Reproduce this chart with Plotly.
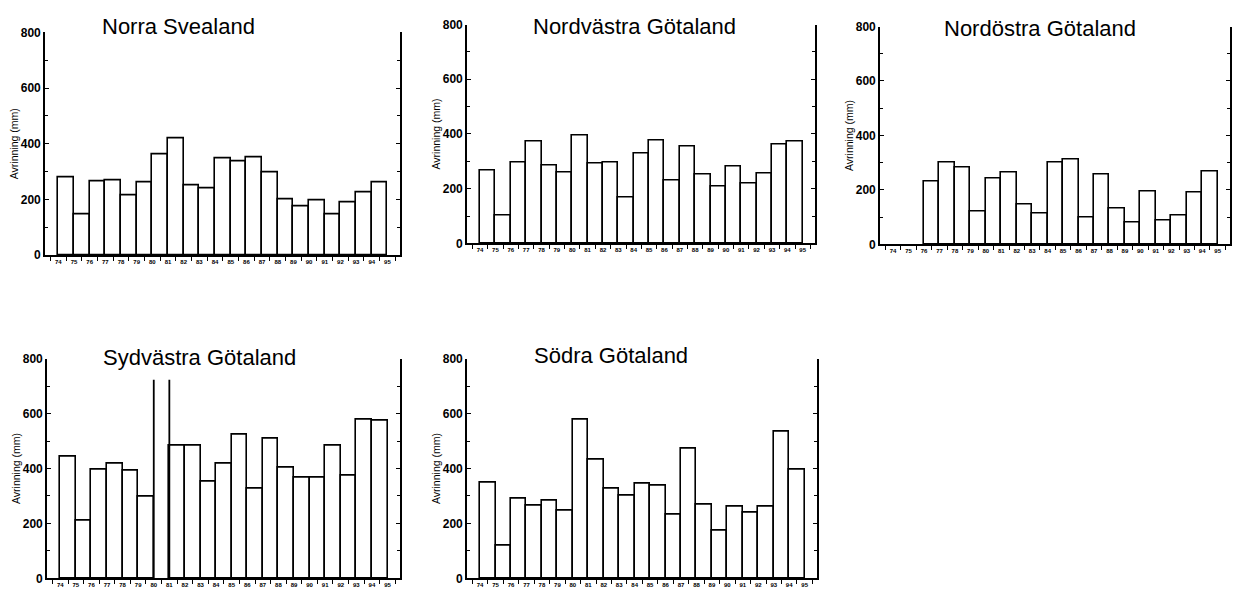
import plotly.graph_objects as go

# Hydrological seasons: the bar for start year Y spans Y..Y+1
year_labels = [str(y) for y in range(74, 96)]
season_starts = list(range(74, 95))

norra_svealand = [280, 147, 263, 268, 215, 262, 363, 418, 251, 240, 347,
                  336, 352, 298, 201, 174, 195, 146, 188, 227, 262]
nordvastra_gotaland = [268, 102, 294, 374, 283, 258, 393, 293, 295, 168, 327,
                       377, 230, 355, 252, 207, 279, 217, 254, 361, 374]
nordostra_gotaland = [None, None, 232, 302, 281, 122, 240, 263, 147, 113, 300,
                      313, 100, 257, 133, 79, 193, 86, 106, 191, 266]
sydvastra_gotaland = [444, 210, 397, 417, 394, 298, 723, 483, 483, 353, 418,
                      525, 325, 508, 405, 367, 367, 482, 373, 579, 573]
sodra_gotaland = [347, 121, 289, 265, 283, 248, 579, 434, 325, 301, 345,
                  336, 233, 472, 268, 173, 261, 239, 261, 533, 395]

# Seasons whose bar runs off the top and is drawn without a lid
sydvastra_open_top = [80]

regions = [
    ("Norra Svealand", norra_svealand, []),
    ("Nordvästra Götaland", nordvastra_gotaland, []),
    ("Nordöstra Götaland", nordostra_gotaland, []),
    ("Sydvästra Götaland", sydvastra_gotaland, sydvastra_open_top),
    ("Södra Götaland", sodra_gotaland, []),
]

W, H = 1239, 602
# plot areas in pixels: (left, right, top, bottom)
boxes = [
    (45, 400, 26, 254),
    (467, 815, 18, 242),
    (880, 1230, 20, 243),
    (47, 400, 360, 585),
    (467, 817, 360, 585),
]
# title centres in pixels
title_pos = [(178, 20), (634, 20), (1040, 22), (199, 359), (611, 357)]

TITLE_FONT = "Liberation Sans, Arial"
TICK_FONT = "Liberation Sans, Arial"

fig = go.Figure()
layout = {}
annotations = []

for i, ((name, values, open_top), box, tpos) in enumerate(zip(regions, boxes, title_pos)):
    n = "" if i == 0 else str(i + 1)
    xa, ya = "x" + n, "y" + n

    bx, by = [], []
    for s, v in zip(season_starts, values):
        if v is None or s in open_top:
            continue
        bx.append(s + 0.5)
        by.append(v)
    fig.add_trace(go.Bar(
        x=bx, y=by, width=1.0, xaxis=xa, yaxis=ya,
        marker=dict(color="white", line=dict(color="black", width=1.6)),
        showlegend=False, hoverinfo="skip",
    ))

    # open-topped bars: only the two sides
    for s, v in zip(season_starts, values):
        if s in open_top and v is not None:
            fig.add_trace(go.Scatter(
                x=[s, s, None, s + 1, s + 1], y=[0, v, None, v, 0],
                mode="lines", line=dict(color="black", width=1.8),
                xaxis=xa, yaxis=ya, showlegend=False, hoverinfo="skip",
            ))

    l, r, t, b = box
    layout["xaxis" + n] = dict(
        domain=[l / W, r / W], range=[73.15, 95.8], anchor=ya,
        tickmode="array", tickvals=list(range(74, 96)), ticktext=year_labels,
        ticks="", tickfont=dict(family=TICK_FONT, size=6, color="black",
                                weight="bold"),
        minor=dict(tick0=73.5, dtick=1, ticks="outside", ticklen=4,
                   tickwidth=1.2, tickcolor="black"),
        showline=True, linecolor="black", linewidth=1.6, mirror=False,
        showgrid=False, zeroline=False, fixedrange=True,
    )
    layout["yaxis" + n] = dict(
        domain=[1 - b / H, 1 - t / H], range=[0, 800], anchor=xa,
        tickmode="array", tickvals=[0, 200, 400, 600, 800],
        ticks="inside", ticklen=4, tickwidth=1.2, tickcolor="black",
        minor=dict(dtick=100, ticks="inside", ticklen=3, tickwidth=1.2,
                   tickcolor="black"),
        tickfont=dict(family=TICK_FONT, size=12, color="black", weight="bold"),
        showline=True, linecolor="black", linewidth=1.6, mirror="allticks",
        showgrid=False, zeroline=False, fixedrange=True,
        title=dict(text="Avrinning (mm)", standoff=0,
                   font=dict(family=TICK_FONT, size=10.5, color="black")),
    )
    annotations.append(dict(
        text=name, x=tpos[0] / W, y=1 - tpos[1] / H, xref="paper", yref="paper",
        xanchor="center", yanchor="middle", showarrow=False,
        font=dict(family=TITLE_FONT, size=22, color="black"),
    ))

fig.update_layout(
    **layout,
    annotations=annotations,
    width=W, height=H,
    margin=dict(l=0, r=0, t=0, b=0),
    paper_bgcolor="white", plot_bgcolor="white",
    bargap=0,
)

fig.write_html("out.html")
